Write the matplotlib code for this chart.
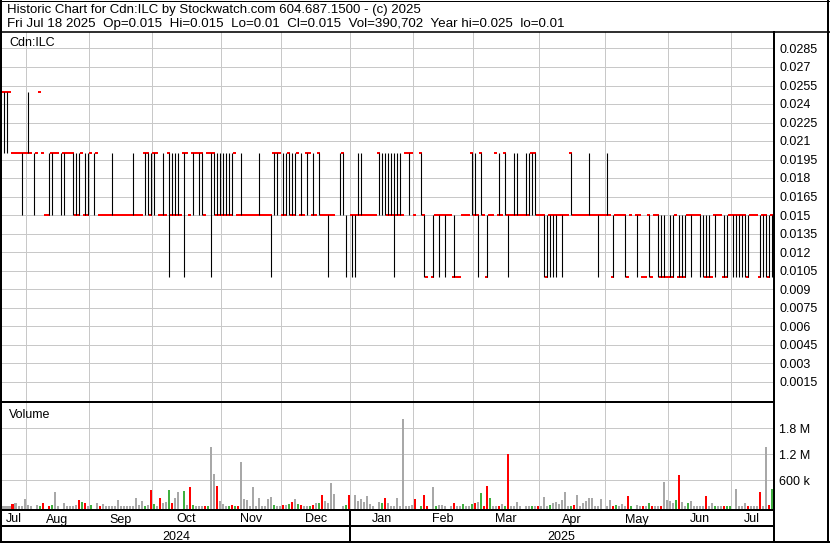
import numpy as np
import matplotlib
matplotlib.use("Agg")
import matplotlib.pyplot as plt
from matplotlib import transforms

# daily prices in thousandths of a dollar (None = no trade)
low = [20, 20, 25, 20, 20, 20, 15, 20, 20, 20,
       15, 20, 25, 20, 15, 15, 15, 20, 20, 15,
       15, 20, 20, 15, 15, 15, 20, 15, 15, 20,
       15, 20, 15, 15, 15, 15, 15, 15, 15, 15,
       15, 15, 15, 15, 15, 15, 15, 15, 15, 15,
       15, 20, 15, 15, 15, 10, 15, 15, 15, 15,
       10, 20, 15, 15, 20, 15, 15, 15, 20, 10,
       15, 15, 15, 15, 15, 15, 15, 20, 15, 15,
       15, 15, 15, 15, 15, 15, 15, 15, 15, 10,
       15, 15, 20, 15, 15, 15, 15, 15, 20, 15,
       15, 15, 20, 15, 15, 15, 15, 15, 10, 15,
       15, None, 15, 15, 10, None, 10, 10, 15, 15,
       15, 15, 15, 15, 15, 15, 15, 15, 15, 15,
       10, 15, 15, 15, 20, 15, 20, 15, None, 15,
       10, 10, None, 10, 15, 10, 15, 10, 15, 15,
       10, 10, 10, 15, 15, 15, 15, 15, 10, 15,
       15, 10, 15, 15, 20, 15, 15, 15, 10, 15,
       15, 15, 15, 15, 15, 15, 15, 15, 15, 15,
       10, 10, 10, 10, 10, 15, 10, 15, 15, 15,
       15, 15, 15, 15, 15, 15, 15, 15, 10, 15,
       15, 15, 15, 10, 15, 15, 15, 10, 10, 15,
       None, 10, 15, 10, 10, 10, 10, 15, 10, 10,
       10, 10, 10, 10, 15, 10, 10, 10, 15, 10,
       15, 15, 10, 10, 10, 10, 10, 10, 15, 15,
       10, 10, 15, 10, 10, 10, 10, 10, 10, 15,
       15, 15, 10, 10, 10, 10, 10]

high = [25, 25, 25, 20, 20, 20, 20, 20, 25, 20,
        20, 20, 25, 20, 15, 20, 20, 20, 20, 20,
        20, 20, 20, 20, 20, 20, 20, 20, 20, 20,
        20, 20, 15, 15, 15, 15, 20, 15, 15, 15,
        15, 15, 15, 20, 15, 15, 15, 20, 20, 20,
        20, 20, 15, 20, 15, 20, 20, 20, 20, 15,
        20, 20, 15, 20, 20, 20, 20, 15, 20, 20,
        20, 20, 20, 20, 20, 20, 20, 20, 15, 20,
        15, 15, 15, 15, 15, 20, 15, 15, 15, 15,
        20, 20, 20, 20, 20, 20, 20, 20, 20, 20,
        15, 20, 20, 20, 15, 20, 15, 15, 15, 15,
        15, None, 20, 20, 15, None, 15, 15, 20, 20,
        15, 15, 15, 15, 15, 20, 20, 20, 20, 20,
        20, 20, 20, 15, 20, 20, 20, 15, None, 20,
        15, 10, None, 15, 15, 15, 15, 15, 15, 15,
        15, 10, 10, 15, 15, 15, 20, 20, 15, 20,
        15, 15, 15, 15, 20, 20, 15, 20, 15, 15,
        20, 20, 15, 15, 20, 20, 20, 20, 15, 15,
        15, 15, 15, 15, 15, 15, 15, 15, 15, 20,
        15, 15, 15, 15, 15, 20, 15, 15, 15, 15,
        15, 20, 15, 15, 15, 15, 15, 15, 10, 15,
        None, 15, 15, 10, 10, 15, 10, 15, 15, 15,
        15, 10, 15, 15, 15, 15, 15, 15, 15, 15,
        15, 15, 15, 15, 15, 15, 10, 15, 15, 15,
        15, 15, 15, 15, 15, 15, 15, 15, 15, 15,
        15, 15, 15, 15, 15, 15, 15]

close = [25, 25, 25, 20, 20, 20, 20, 20, 20, 20,
         None, 20, 25, 20, 15, 15, 20, 20, 20, None,
         20, 20, 20, 20, 15, 15, 20, 15, 15, 20,
         None, 20, 15, 15, 15, 15, 15, 15, 15, 15,
         15, 15, 15, 15, 15, 15, 15, 20, 20, 15,
         20, 20, 15, 15, 15, 20, 15, 15, 15, 15,
         20, 20, 15, 20, 20, 20, 20, 15, 20, 20,
         20, 15, 15, 15, 15, 15, 15, 20, 15, 15,
         15, 15, 15, 15, 15, 15, 15, 15, 15, 15,
         20, 20, 20, 15, 15, 20, 15, 15, 20, 15,
         15, 20, 20, 15, 15, 20, 15, 15, 15, 15,
         15, None, None, 20, None, None, 15, 15, 15, 15,
         15, 15, 15, 15, 15, 20, None, None, 15, 15,
         15, 15, 15, 15, 20, 20, 20, 15, None, 20,
         15, 10, None, 10, 15, 15, 15, 15, 15, 15,
         10, 10, 10, 15, 15, 15, 20, 15, 15, 20,
         15, 10, 15, 15, 20, 15, 15, 20, 15, 15,
         15, 15, 15, 15, 15, 15, 20, 20, 15, 15,
         15, 10, 15, 15, 15, 15, 15, 15, 15, 20,
         15, 15, 15, 15, 15, 15, 15, 15, 15, 15,
         15, 15, 15, 10, 15, 15, 15, 15, 10, 15,
         None, 15, 15, 10, 10, 15, 10, 15, 15, 10,
         10, 10, 10, 10, 15, 10, 10, 10, 15, 15,
         15, 15, 15, None, 10, 10, 10, 15, 15, 15,
         10, 10, 15, 15, 15, 15, 15, 15, 10, 15,
         15, 15, 10, 15, 15, 10, 15]

# daily volume in thousands of shares (None = no trade)
volume_k = [6, 4, 3, 31, 77, 3, 3, 169, 8, 3,
            None, 8, 3, 54, None, 3, 8, 331, 3, None,
            77, 3, 3, 3, 8, 146, 100, 54, 3, 8,
            None, 54, 5, 31, 3, 3, 5, 5, 146, 5,
            3, 3, 3, 3, 192, 8, 123, 5, 8, 377,
            31, 5, 192, 54, 100, 377, 54, 192, 331, None,
            354, 8, 446, 8, 3, 3, 3, 5, 3, 1369,
            746, 469, 123, 31, 3, 3, 8, 3, 3, 1023,
            169, 131, 3, 446, 5, 192, 5, 3, 169, 215,
            8, 5, 3, 8, 8, 31, 100, 169, 31, 8,
            3, 3, 3, 8, 54, 54, 261, 123, 54, 538,
            285, None, None, 3, 8, 261, None, 261, 123, 169,
            100, 238, 31, 3, None, 100, 54, 192, 54, 5,
            5, 192, 5, 2030, 5, 3, 8, 169, None, 5,
            261, 3, None, 446, 5, 8, 8, 3, None, 5,
            77, 3, 3, 31, 5, 5, 31, 77, 100, 308,
            5, 469, 192, 3, 3, 3, 31, 5, 1207, 3,
            3, 100, 3, None, 3, 5, 3, 3, 5, 3,
            215, 5, 8, 77, 100, 31, 146, 331, 3, 5,
            8, 261, 3, 54, 123, 192, 192, 3, 3, 169,
            None, 3, 146, 3, 8, 5, 31, 3, 238, 3,
            None, 8, 5, 3, 3, 77, 5, 3, 3, 3,
            561, 146, 123, 77, 146, 723, 100, 3, 54, 123,
            3, 3, 3, 5, 238, 3, 54, 5, 3, 3,
            3, 5, 5, None, 400, 5, 5, 77, 5, 3,
            3, 3, 331, 3, 1369, 8, 390.702]

# 1 = close up, -1 = close down, 0 = unchanged
direction = [0, 0, 0, -1, 0, 0, 0, 0, 0, 0,
             0, 0, 1, -1, 0, -1, 1, 0, 0, 0,
             0, 0, 0, 0, 0, -1, 1, -1, 0, 1,
             0, 0, -1, 0, 0, 0, 0, 0, 0, 0,
             0, 0, 0, 0, 0, 0, 0, 1, 0, -1,
             1, 0, -1, 0, 0, 1, -1, 0, 0, 0,
             1, 0, -1, 1, 0, 0, 0, -1, 1, 0,
             0, -1, 0, 0, 0, 1, -1, 1, -1, 0,
             0, 0, 0, 0, 0, 0, 0, 0, 0, 0,
             1, 0, 0, -1, 0, 1, -1, 0, 1, -1,
             0, 0, 1, -1, 0, 1, -1, 0, 0, 0,
             0, 0, 0, 0, 1, -1, 0, 0, 0, 0,
             0, 0, 0, 0, 0, 0, 1, -1, 0, 0,
             0, 0, 0, 0, 0, 0, 0, -1, 0, 1,
             -1, -1, 0, 0, 1, 0, 0, 0, 0, 0,
             -1, 0, 0, 1, 0, 0, 1, -1, 0, 1,
             -1, -1, 1, 0, 0, -1, 0, 1, -1, 0,
             0, 0, 0, 0, 0, 0, 1, 0, -1, 0,
             0, 0, 1, 0, 0, 0, 0, 0, 0, 1,
             -1, 0, 0, 0, 0, 0, 0, 0, 0, 0,
             0, 0, 0, -1, 1, 0, 0, 0, -1, 1,
             0, 0, 0, -1, 0, 1, -1, 0, 0, -1,
             0, 0, 0, 0, 1, -1, 0, 0, 1, 0,
             0, 0, 0, 0, -1, 0, 0, 1, 0, 0,
             -1, 1, 1, 0, 0, 0, 0, 0, -1, 0,
             0, 0, -1, 0, 0, -1, 1]

# trading-day index where each month starts, and the labels
month_starts = [8, 29, 50, 73, 93, 116, 137, 157, 179, 201, 222, 243]
month_names = ["Jul", "Aug", "Sep", "Oct", "Nov", "Dec", "Jan",
               "Feb", "Mar", "Apr", "May", "Jun", "Jul"]
year_start = 116
years = ["2024", "2025"]

price_ticks = np.arange(1, 20) * 0.0015
vol_ticks = [600e3, 1.2e6, 1.8e6]
vol_labels = ["600 k", "1.2 M", "1.8 M"]

title1 = "Historic Chart for Cdn:ILC by Stockwatch.com 604.687.1500 - (c) 2025"
title2 = ("Fri Jul 18 2025  Op=0.015  Hi=0.015  Lo=0.01  Cl=0.015  "
          "Vol=390,702  Year hi=0.025  lo=0.01")

n = len(low)
assert len(high) == n and len(close) == n and len(volume_k) == n and len(direction) == n

lo = np.array(low, dtype=float) / 1000
hi = np.array(high, dtype=float) / 1000
cl = np.array(close, dtype=float) / 1000
vol = np.array(volume_k, dtype=float) * 1000
dirs = np.array(direction)
x = np.arange(n) + 0.5

W, H = 830, 543
GRID = "#c8c8c8"
PX = 0.72  # one pixel in points

plt.rcParams["font.family"] = ["Liberation Sans", "DejaVu Sans"]
plt.rcParams["font.size"] = 9

fig = plt.figure(figsize=(W / 100, H / 100), dpi=100)


def box(x0, y0, x1, y1):
    return [x0 / W, 1 - y1 / H, (x1 - x0) / W, (y1 - y0) / H]


# price panel
ax = fig.add_axes(box(2, 32.3, 773.3, 400.5))
ax.set_xlim(0, n)
ax.set_ylim(0, 0.02981)
ax.axis("off")
for v in price_ticks:
    ax.axhline(v, color=GRID, lw=PX, zorder=0)
for m in month_starts:
    ax.axvline(m, color=GRID, lw=PX, zorder=0)
rng = hi > lo
ax.hlines(cl, x - 0.5, x + 0.5, color="#ff0000", lw=2 * PX, zorder=2)
ax.vlines(x[rng], lo[rng], hi[rng], color="black", lw=PX * 1.1, zorder=3)

# volume panel
axv = fig.add_axes(box(2, 402.5, 773.3, 509.3))
vmin = -81e3
axv.set_xlim(0, n)
axv.set_ylim(vmin, 2.402e6)
axv.axis("off")
for v in vol_ticks:
    axv.axhline(v, color=GRID, lw=PX, zorder=0)
for m in month_starts:
    axv.axvline(m, color=GRID, lw=PX, zorder=0)
cmap = {1: "#40b040", -1: "#ff0000", 0: "#a8a8a8"}
has = ~np.isnan(vol)
axv.bar(x[has], vol[has] - vmin, bottom=vmin, width=0.67,
        color=[cmap[d] for d in dirs[has]], zorder=2)

# frame overlay in pixel coordinates
fr = fig.add_axes([0, 0, 1, 1], zorder=5)
fr.set_xlim(0, W)
fr.set_ylim(H, 0)
fr.axis("off")
fr.patch.set_alpha(0)

k = dict(color="black", solid_capstyle="butt")
fr.plot([0, W], [0.5, 0.5], lw=PX, **k)
fr.plot([1, 1], [0, H], lw=2 * PX, **k)
fr.plot([828.3, 828.3], [0, H], lw=2 * PX, **k)
fr.plot([0, W], [542, 542], lw=2 * PX, **k)
fr.plot([0, W], [31.6, 31.6], lw=1.6 * PX, **k)
fr.plot([774.3, 774.3], [31, H], lw=2 * PX, **k)
fr.plot([0, 774], [401.5, 401.5], lw=2 * PX, **k)
fr.plot([0, 774], [510.2, 510.2], lw=2 * PX, **k)
fr.plot([0, 774], [526.2, 526.2], lw=2 * PX, **k)
yr_tr = transforms.blended_transform_factory(axv.transData, fr.transData)
fr.plot([year_start, year_start], [510, H], lw=2 * PX, transform=yr_tr, **k)

fr.text(6.5, 12.7, title1, va="baseline", fontsize=9.55)
fr.text(6.5, 27.3, title2, va="baseline", fontsize=9.65)
fr.text(9.3, 46, "Cdn:ILC", va="baseline")
fr.text(9.3, 417.7, "Volume", va="baseline")

# right-hand labels
ptr = transforms.offset_copy(
    transforms.blended_transform_factory(fr.transData, ax.transData),
    fig=fig, y=-4.3, units="dots")
for v in price_ticks:
    fr.text(779.3, v, f"{v:g}", va="baseline", transform=ptr)
vtr = transforms.offset_copy(
    transforms.blended_transform_factory(fr.transData, axv.transData),
    fig=fig, y=-4.7, units="dots")
for v, s in zip(vol_ticks, vol_labels):
    fr.text(779.3, v, s, va="baseline", transform=vtr)

# month and year labels
edges = [0] + month_starts + [n]
for i, name in enumerate(month_names):
    fr.text((edges[i] + edges[i + 1]) / 2, 522.5, name, ha="center",
            va="baseline", transform=yr_tr)
for c, name in zip([year_start / 2, (year_start + n) / 2], years):
    fr.text(c, 540, name, ha="center", va="baseline", transform=yr_tr)

fig.savefig("out.png", dpi=100, facecolor="white")
